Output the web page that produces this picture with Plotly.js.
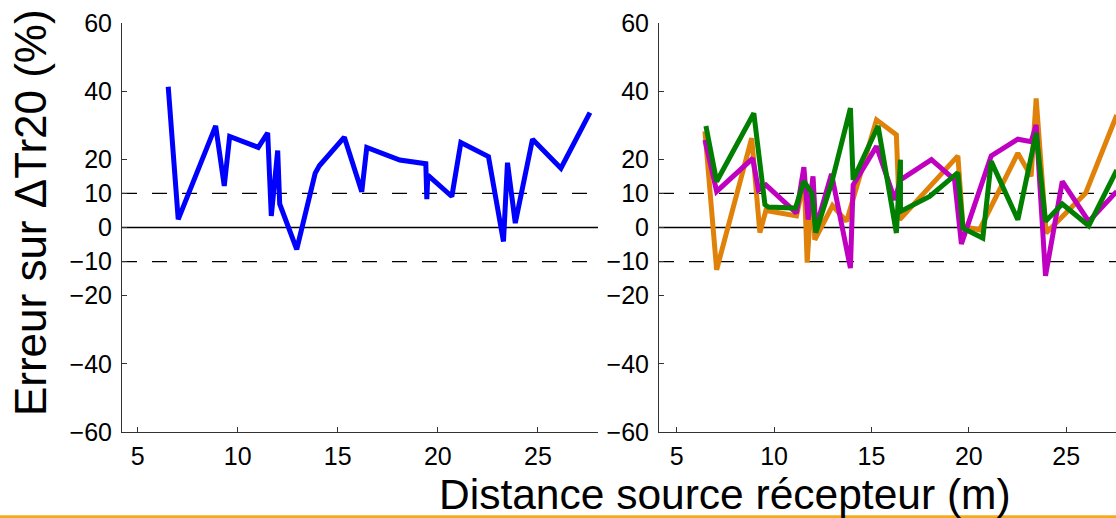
<!DOCTYPE html>
<html>
<head>
<meta charset="utf-8">
<script src="https://cdn.plot.ly/plotly-3.0.1.min.js"></script>
<style>
html,body{margin:0;padding:0;background:#fff;overflow:hidden;}
#chart{width:1116px;height:518px;}
</style>
</head>
<body>
<div id="chart"></div>
<script>
// Left panel: blue series
const blueX = [6.53, 7.03, 8.9, 9.33, 9.6, 11.03, 11.5, 11.68, 12.0, 12.1, 12.95, 13.87, 14.08, 15.33, 16.2, 16.45, 18.1, 19.4, 19.45, 19.5, 20.7, 21.15, 22.53, 23.28, 23.48, 23.87, 24.73, 26.15, 27.6];
const blueY = [41.3, 2.4, 29.8, 12.2, 26.7, 23.5, 27.8, 3.4, 22.6, 6.9, -6.4, 15.9, 18.1, 26.5, 10.5, 23.5, 19.8, 18.7, 8.3, 15.4, 9.1, 24.9, 20.8, -4.1, 19.0, 1.3, 25.9, 17.4, 33.7];

// Right panel: orange series
const orangeX = [6.45, 7.05, 8.85, 9.27, 9.58, 11.15, 11.55, 11.7, 11.98, 12.09, 13.0, 13.72, 15.26, 16.28, 16.45, 19.44, 19.7, 20.55, 22.52, 23.2, 23.46, 23.97, 26.0, 27.6];
const orangeY = [28.2, -12.4, 26.2, -1.5, 5.0, 3.4, 14.0, -10.3, 14.5, -3.6, 6.4, 1.8, 31.6, 27.2, 2.3, 21.0, 0.3, -0.7, 21.8, 15.0, 37.9, -1.6, 10.1, 33.0];

// Right panel: magenta series
const magentaX = [6.45, 7.05, 8.9, 9.2, 9.58, 11.15, 11.53, 11.75, 12.0, 12.14, 12.95, 13.92, 14.06, 15.26, 16.2, 16.49, 18.08, 19.27, 19.62, 21.15, 22.52, 23.2, 23.46, 23.94, 24.8, 26.16, 27.6];
const magentaY = [25.7, 10.6, 20.3, 11.0, 12.5, 4.2, 17.7, 2.3, 15.0, -0.2, 15.7, -11.9, 12.5, 23.8, 8.1, 14.0, 19.9, 14.0, -4.8, 21.0, 25.9, 25.2, 30.1, -14.2, 13.5, 1.8, 10.6];

// Right panel: green series
const greenX = [6.5, 7.05, 8.96, 9.53, 9.7, 11.1, 11.53, 11.95, 12.14, 12.95, 13.92, 14.06, 15.34, 16.28, 16.49, 16.49, 17.99, 19.44, 19.7, 20.72, 21.15, 22.52, 23.46, 23.94, 24.8, 26.16, 27.6];
const greenY = [29.8, 13.5, 33.5, 6.7, 6.0, 5.7, 13.5, 10.0, -1.5, 13.0, 35.0, 14.0, 29.8, -1.6, 19.9, 4.7, 9.1, 16.1, -0.2, -3.1, 19.4, 2.3, 27.7, 1.8, 6.9, 0.5, 16.8];

const yTicks = [-60, -40, -20, -10, 0, 10, 20, 40, 60];
const xTicks = [5, 10, 15, 20, 25];
const refLevels = [-10, 0, 10];

const font = {family: 'Liberation Sans, Arial, sans-serif', color: '#000'};

function lineTrace(x, y, color, xa, ya) {
  return {x: x, y: y, type: 'scatter', mode: 'lines', xaxis: xa, yaxis: ya,
    line: {color: color, width: 5}, hoverinfo: 'skip', showlegend: false};
}

const traces = [
  lineTrace(blueX, blueY, '#0000ff', 'x', 'y'),
  lineTrace(orangeX, orangeY, '#e0820a', 'x2', 'y2'),
  lineTrace(magentaX, magentaY, '#c000c0', 'x2', 'y2'),
  lineTrace(greenX, greenY, '#007f00', 'x2', 'y2')
];

function yaxisDef(anchor) {
  return {
    anchor: anchor, domain: [0.166, 0.9556], range: [-60, 60],
    tickmode: 'array', tickvals: yTicks, ticktext: yTicks.map(v => v < 0 ? '\u2212' + Math.abs(v) : String(v)),
    ticks: 'inside', ticklen: 5, tickwidth: 1, tickcolor: '#333',
    showline: true, linecolor: '#333', linewidth: 1, mirror: false,
    showgrid: false, zeroline: false,
    tickfont: Object.assign({size: 25}, font), ticklabelstandoff: 4
  };
}
function xaxisDef(anchor, domain, range) {
  return {
    anchor: anchor, domain: domain, range: range,
    tickmode: 'array', tickvals: xTicks,
    ticks: 'inside', ticklen: 5, tickwidth: 1, tickcolor: '#333',
    showline: true, linecolor: '#333', linewidth: 1,
    showgrid: false, zeroline: false,
    tickfont: Object.assign({size: 25}, font), ticklabelstandoff: 2
  };
}

const shapes = [];
[['x', 'y'], ['x2', 'y2']].forEach(([xa, ya]) => {
  refLevels.forEach(v => {
    shapes.push({type: 'line', xref: xa + ' domain', yref: ya, x0: 0, x1: 1, y0: v, y1: v,
      line: {color: '#000', width: 1.3, dash: v === 0 ? 'solid' : '15px,15px'}, layer: 'below'});
  });
});
shapes.push({type: 'line', xref: 'paper', yref: 'paper', x0: 0, x1: 1, y0: 0.0025, y1: 0.0025,
  line: {color: '#f7a91c', width: 3}});

const layout = {
  width: 1116, height: 518,
  margin: {l: 0, r: 0, t: 0, b: 0},
  paper_bgcolor: '#fff', plot_bgcolor: '#fff',
  showlegend: false,
  xaxis: xaxisDef('y', [0.1093, 0.5358], [4.22, 28.0]),
  yaxis: yaxisDef('x'),
  xaxis2: xaxisDef('y2', [0.5905, 1], [4.09, 27.56]),
  yaxis2: yaxisDef('x2'),
  shapes: shapes,
  annotations: [
    {text: 'Erreur sur \u0394Tr20 (%)', xref: 'paper', yref: 'paper', x: 0.0275, y: 0.59,
     xanchor: 'center', yanchor: 'middle', textangle: -90, showarrow: false,
     font: Object.assign({size: 44}, font)},
    {text: 'Distance source récepteur (m)', xref: 'paper', yref: 'paper', x: 0.65, y: 0.045,
     xanchor: 'center', yanchor: 'middle', showarrow: false,
     font: Object.assign({size: 42.5}, font)}
  ]
};

Plotly.newPlot('chart', traces, layout, {displayModeBar: false, staticPlot: true});
</script>
</body>
</html>
